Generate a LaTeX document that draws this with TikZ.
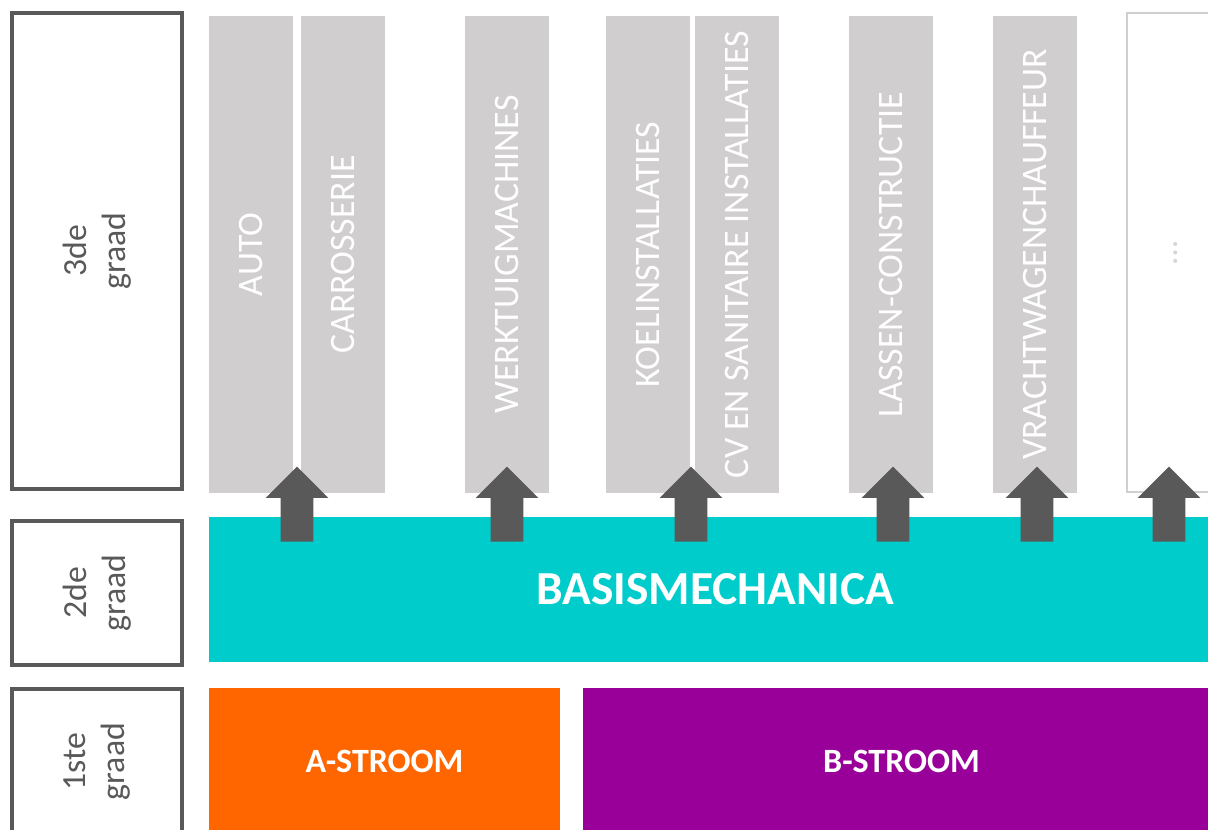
\documentclass[tikz,border=0pt]{standalone}
\usepackage{fontspec}
\setmainfont{Carlito}
\usepackage{tikz}
\usetikzlibrary{shapes.arrows}
\definecolor{frame}{HTML}{595959}
\definecolor{column}{HTML}{D0CECE}
\definecolor{basis}{HTML}{00CCCC}
\definecolor{astroom}{HTML}{FF6600}
\definecolor{bstroom}{HTML}{990099}
\definecolor{faint}{HTML}{D6D6D6}
\begin{document}
\begin{tikzpicture}[
  x=0.025cm, y=-0.025cm,
  grade/.style={draw=frame, line width=0.1cm, rotate=90, minimum height=4.25cm, inner sep=0, align=center, text=frame, font=\fontsize{24}{28}\selectfont},
  richting/.style={fill=column, rotate=90, minimum width=11.925cm, minimum height=2.1cm, inner sep=0, text=white, font=\fontsize{25.5}{30}\selectfont},
  stroom/.style={minimum height=3.675cm, inner sep=0, text=white, font=\bfseries\fontsize{24.2}{29}\selectfont},
  pijl/.style={shape=single arrow, fill=frame, rotate=90, anchor=tail, inner sep=0, text height=0.4cm, text depth=0.4cm, single arrow head extend=0.375cm, minimum height=1.875cm}
]
\useasboundingbox (0,0) rectangle (1208,829);
\clip (0,0) rectangle (1208,829);
\node[grade, minimum width=11.9cm] (graad3) at (97,251) {3de\\graad};
\node[grade, minimum width=3.6cm] (graad2) at (97,593) {2de\\graad};
\node[grade, minimum width=3.625cm] (graad1) at (97,761.5) {1ste\\graad};
\node[richting] (auto) at (251,254.5) {AUTO};
\node[richting] (carrosserie) at (343,254.5) {CARROSSERIE};
\node[richting] (werktuig) at (507,254.5) {WERKTUIGMACHINES};
\node[richting] (koel) at (648,254.5) {KOELINSTALLATIES};
\node[richting] (cv) at (737,254.5) {CV EN SANITAIRE INSTALLATIES};
\node[richting] (lassen) at (891,254.5) {LASSEN-CONSTRUCTIE};
\node[richting] (vracht) at (1035,254.5) {VRACHTWAGENCHAUFFEUR};
\node[richting, fill=white, draw=column, line width=0.04cm, minimum width=11.975cm, text=faint, font=\fontsize{24}{29}\selectfont] (meer) at (1169,252.5) {\strut\textellipsis};
\node[fill=basis, minimum width=25.3cm, minimum height=3.625cm, inner sep=0, text=white, font=\bfseries\fontsize{33.7}{40}\selectfont] (basis) at (715,589.5) {BASISMECHANICA};
\node[stroom, fill=astroom, minimum width=8.775cm] (astroom) at (384.5,761.5) {A-STROOM};
\node[stroom, fill=bstroom, minimum width=15.925cm] (bstroom) at (901.5,761.5) {B-STROOM};
\node[pijl] (pijl1) at (297,542) {};
\node[pijl] (pijl2) at (507,542) {};
\node[pijl] (pijl3) at (691,542) {};
\node[pijl] (pijl4) at (893,542) {};
\node[pijl] (pijl5) at (1037,542) {};
\node[pijl] (pijl6) at (1169,542) {};
\end{tikzpicture}
\end{document}
